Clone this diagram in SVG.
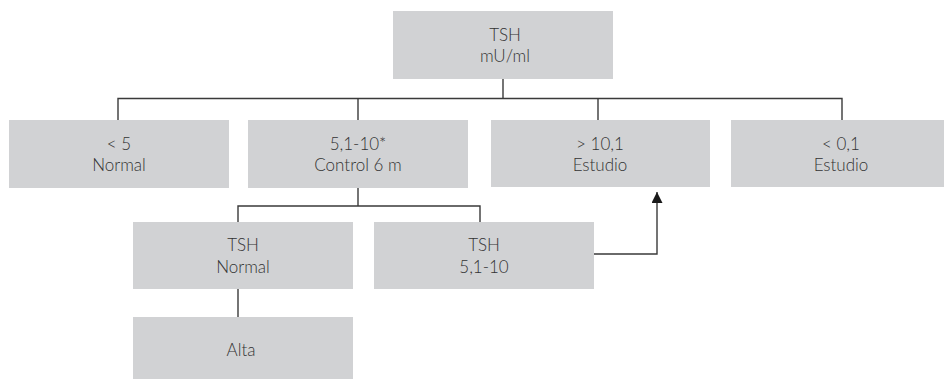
<svg xmlns="http://www.w3.org/2000/svg" width="944" height="379" viewBox="0 0 944 379">
<style>
.box{fill:#d1d2d4;}
.t{font-family:"Lato","Open Sans","Liberation Sans",sans-serif;font-weight:300;font-size:17px;fill:#333333;text-anchor:middle;}
.c{fill:none;stroke:#3a3a3a;stroke-width:1.4;}
</style>
<defs>
<marker id="ah" viewBox="0 0 10 10" refX="10" refY="5" markerWidth="11" markerHeight="11" markerUnits="userSpaceOnUse" orient="auto">
<path d="M0,0 L10,5 L0,10 z" fill="#1a1a1a"/>
</marker>
</defs>
<rect width="944" height="379" fill="#ffffff"/>
<g id="connectors">
<path class="c" d="M503,79 V98.5"/>
<path class="c" d="M118,120 V98.5 H842 V120"/>
<path class="c" d="M358,98.5 V120"/>
<path class="c" d="M598,98.5 V120"/>
<path class="c" d="M358,188 V206"/>
<path class="c" d="M238,222 V206 H480 V222"/>
<path class="c" d="M238,289 V317"/>
<path class="c" d="M594,254 H657 V192" marker-end="url(#ah)"/>
</g>
<g id="n-tsh">
<rect class="box" x="393" y="11" width="220" height="68"/>
<text class="t" x="505" y="41">TSH</text>
<text class="t" x="505" y="62">mU/ml</text>
</g>
<g id="n-lt5">
<rect class="box" x="9" y="120" width="220" height="68"/>
<text class="t" x="119" y="150">&lt; 5</text>
<text class="t" x="119" y="171">Normal</text>
</g>
<g id="n-51-10">
<rect class="box" x="248" y="120" width="220" height="68"/>
<text class="t" x="358" y="150">5,1-10*</text>
<text class="t" x="358" y="171">Control 6 m</text>
</g>
<g id="n-gt10">
<rect class="box" x="491" y="120" width="219" height="67"/>
<text class="t" x="600" y="150">&gt; 10,1</text>
<text class="t" x="600" y="171">Estudio</text>
</g>
<g id="n-lt01">
<rect class="box" x="731" y="120" width="220" height="67"/>
<text class="t" x="841" y="150">&lt; 0,1</text>
<text class="t" x="841" y="171">Estudio</text>
</g>
<g id="n-tsh-normal">
<rect class="box" x="133" y="222" width="220" height="67"/>
<text class="t" x="243" y="251">TSH</text>
<text class="t" x="243" y="273">Normal</text>
</g>
<g id="n-tsh-51-10">
<rect class="box" x="374" y="222" width="220" height="67"/>
<text class="t" x="484" y="251">TSH</text>
<text class="t" x="484" y="273">5,1-10</text>
</g>
<g id="n-alta">
<rect class="box" x="133" y="317" width="220" height="62"/>
<text class="t" x="241" y="356">Alta</text>
</g>
</svg>
